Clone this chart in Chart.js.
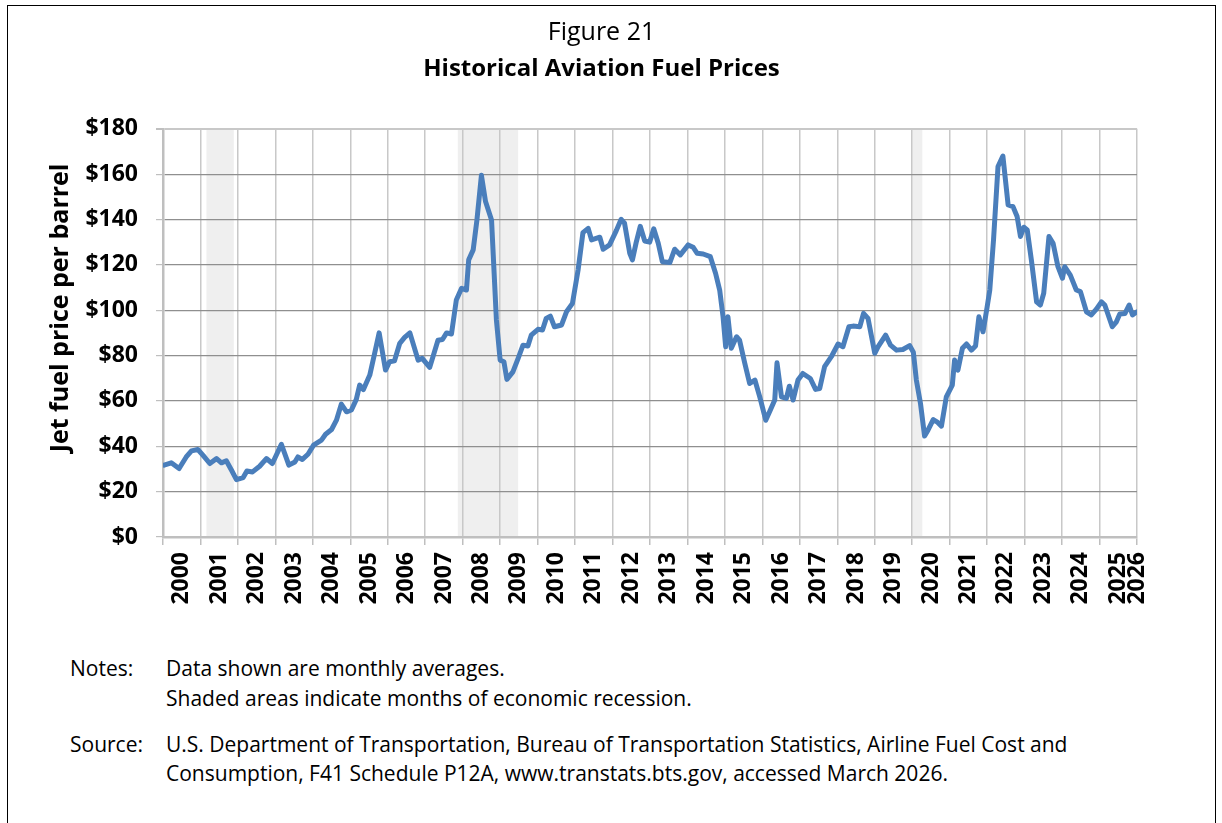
<!DOCTYPE html>
<html>
<head>
<meta charset="utf-8">
<script src="https://cdn.jsdelivr.net/npm/chart.js@4.4.1/dist/chart.umd.min.js"></script>
<style>
    body { margin: 0; background: #fff; font-family: "Open Sans", sans-serif; }
    .frame { position: absolute; left: 7px; top: 5px; width: 1207px; height: 830px; border: 1px solid #000; }
    .wrap { position: absolute; left: 0; top: 0; width: 1222px; height: 640px; }
    .note { position: absolute; font-size: 21px; line-height: 28px; color: #000; white-space: nowrap; }
</style>
</head>
<body>
<div class="frame"></div>
<div class="wrap"><canvas id="fuel" width="1222" height="640"></canvas></div>
<div class="note" style="left:70px; top:654px;">Notes:</div>
<div class="note" style="left:166px; top:654px;">Data shown are monthly averages.</div>
<div class="note" style="left:166px; top:684px;">Shaded areas indicate months of economic recession.</div>
<div class="note" style="left:70px; top:730px;">Source:</div>
<div class="note" style="left:166px; top:730px;">U.S. Department of Transportation, Bureau of Transportation Statistics, Airline Fuel Cost and</div>
<div class="note" style="left:166px; top:759px;">Consumption, F41 Schedule P12A, www.transtats.bts.gov, accessed March 2026.</div>
<script>
// dates are decimal years (2000.0 = start of Jan 2000), prices in $ per barrel
const priceDates = [
    2000.03, 2000.22, 2000.43, 2000.62, 2000.76, 2000.93, 2001.07, 2001.25, 2001.43, 2001.56, 2001.69, 2001.83, 2001.96,
    2002.14, 2002.24, 2002.39, 2002.58, 2002.76, 2002.92, 2003.16, 2003.36, 2003.52, 2003.60, 2003.72, 2003.87,
    2004.02, 2004.23, 2004.34, 2004.50, 2004.63, 2004.76, 2004.90, 2005.03, 2005.16, 2005.25, 2005.35, 2005.52,
    2005.65, 2005.77, 2005.94, 2006.05, 2006.18, 2006.32, 2006.45, 2006.59, 2006.81, 2006.92, 2007.12, 2007.34,
    2007.46, 2007.57, 2007.70, 2007.83, 2007.97, 2008.10, 2008.16, 2008.28, 2008.38, 2008.50, 2008.61, 2008.77,
    2008.90, 2009.00, 2009.10, 2009.18, 2009.34, 2009.48, 2009.61, 2009.74, 2009.83, 2010.01, 2010.13, 2010.23,
    2010.34, 2010.45, 2010.64, 2010.77, 2010.93, 2011.08, 2011.21, 2011.35, 2011.44, 2011.66, 2011.75, 2011.92,
    2012.10, 2012.23, 2012.32, 2012.46, 2012.53, 2012.63, 2012.74, 2012.86, 2012.99, 2013.10, 2013.22, 2013.33,
    2013.53, 2013.66, 2013.81, 2014.02, 2014.15, 2014.26, 2014.42, 2014.61, 2014.75, 2014.86, 2014.95, 2015.02,
    2015.08, 2015.17, 2015.31, 2015.39, 2015.53, 2015.66, 2015.80, 2015.93, 2016.09, 2016.21, 2016.33, 2016.39,
    2016.51, 2016.64, 2016.72, 2016.82, 2016.95, 2017.08, 2017.28, 2017.42, 2017.53, 2017.66, 2017.84, 2018.02,
    2018.15, 2018.31, 2018.42, 2018.60, 2018.70, 2018.82, 2019.00, 2019.09, 2019.29, 2019.42, 2019.58, 2019.75,
    2019.93, 2020.03, 2020.11, 2020.22, 2020.33, 2020.42, 2020.56, 2020.66, 2020.78, 2020.91, 2021.07, 2021.13,
    2021.22, 2021.34, 2021.45, 2021.58, 2021.69, 2021.78, 2021.89, 2022.00, 2022.07, 2022.17, 2022.29, 2022.42,
    2022.56, 2022.69, 2022.80, 2022.89, 2022.98, 2023.07, 2023.18, 2023.32, 2023.42, 2023.51, 2023.65, 2023.76,
    2023.89, 2024.01, 2024.07, 2024.22, 2024.38, 2024.49, 2024.65, 2024.78, 2024.91, 2025.05, 2025.14, 2025.34,
    2025.45, 2025.54, 2025.68, 2025.79, 2025.88, 2026.00
];
const prices = [
    31.7, 32.7, 30.2, 35.3, 38.0, 38.6, 36.0, 32.4, 34.6, 32.7, 33.6, 29.4, 25.3,
    26.2, 29.1, 28.7, 31.2, 34.6, 32.4, 40.9, 31.7, 33.1, 35.3, 34.2, 36.5,
    40.5, 42.7, 45.3, 47.4, 51.5, 58.6, 55.2, 56.0, 60.7, 67.0, 65.0, 71.4,
    81.0, 90.0, 73.6, 77.3, 77.7, 85.4, 88.0, 90.0, 78.0, 78.8, 74.8, 86.8,
    87.1, 90.0, 89.5, 104.5, 109.7, 108.9, 122.2, 126.6, 139.8, 159.5, 147.9, 139.8,
    95.7, 78.0, 77.3, 69.5, 72.8, 78.8, 84.6, 84.2, 89.0, 91.6, 91.3, 96.4,
    97.4, 92.7, 93.5, 99.3, 103.0, 117.7, 134.2, 136.1, 131.0, 132.2, 126.9, 128.8,
    135.1, 140.1, 138.4, 125.1, 122.2, 129.8, 137.0, 130.5, 130.0, 135.9, 129.5, 121.4,
    121.0, 126.9, 124.4, 128.8, 127.8, 125.1, 124.8, 123.6, 116.3, 108.9, 97.1, 83.9,
    97.1, 83.2, 88.3, 86.8, 76.6, 67.7, 69.2, 61.8, 51.5, 55.9, 60.4, 76.8,
    61.8, 61.1, 66.5, 60.4, 69.2, 72.1, 69.9, 65.1, 65.5, 75.1, 79.5, 85.1,
    83.9, 92.7, 93.0, 92.7, 98.6, 96.4, 81.0, 83.9, 89.0, 84.6, 82.4, 82.7,
    84.4, 81.5, 69.2, 58.9, 44.5, 47.1, 51.8, 50.8, 48.9, 61.8, 67.0, 78.0,
    73.6, 83.2, 85.1, 82.4, 84.2, 97.1, 90.5, 101.5, 108.9, 131.0, 163.4, 168.0,
    146.4, 145.7, 141.3, 132.5, 136.6, 135.4, 122.2, 103.7, 102.3, 107.5, 132.5, 129.5,
    119.2, 114.1, 119.2, 115.5, 108.9, 108.2, 99.3, 97.9, 100.4, 103.7, 102.3, 92.7,
    94.9, 98.3, 98.6, 102.3, 97.9, 99.3
];
// recession periods, [start, end] in decimal years
const recessions = [[2001.16, 2001.89], [2007.87, 2009.48], [2020.0, 2020.27]];
const yearLabels = ["2000", "2001", "2002", "2003", "2004", "2005", "2006", "2007", "2008", "2009", "2010", "2011", "2012",
    "2013", "2014", "2015", "2016", "2017", "2018", "2019", "2020", "2021", "2022", "2023", "2024", "2025", "2026"];
const yTicks = [0, 20, 40, 60, 80, 100, 120, 140, 160, 180];
const yAxisTitle = 'Jet fuel price per barrel';

const recessionShade = {
    id: 'recessionShade',
    beforeDraw(chart) {
        const { ctx, chartArea, scales } = chart;
        ctx.save();
        ctx.fillStyle = '#efefef';
        recessions.forEach(r => {
            const x1 = scales.x.getPixelForValue(r[0]);
            const x2 = scales.x.getPixelForValue(r[1]);
            ctx.fillRect(x1, chartArea.top, x2 - x1, chartArea.bottom - chartArea.top);
        });
        ctx.restore();
    }
};

// y axis title sits a bit above the middle of the plot in the original, so draw it ourselves
const sideTitle = {
    id: 'sideTitle',
    afterDraw(chart) {
        const { ctx, chartArea } = chart;
        ctx.save();
        ctx.translate(61, (chartArea.top + chartArea.bottom) / 2 - 25);
        ctx.rotate(-Math.PI / 2);
        ctx.font = 'bold 25px "Open Sans"';
        ctx.fillStyle = '#000';
        ctx.textAlign = 'center';
        ctx.textBaseline = 'middle';
        ctx.fillText(yAxisTitle, 0, 0);
        ctx.restore();
    }
};

new Chart(document.getElementById('fuel').getContext('2d'), {
    type: 'line',
    data: {
        datasets: [{
            label: 'Jet fuel price',
            data: priceDates.map((d, i) => ({ x: d, y: prices[i] })),
            borderColor: '#4a7ebb',
            borderWidth: 5,
            pointRadius: 0,
            tension: 0,
            borderJoinStyle: 'round',
            borderCapStyle: 'round',
            xAxisID: 'x'
        }]
    },
    options: {
        responsive: false,
        animation: false,
        layout: { padding: { left: 66, right: 85, top: 0, bottom: 0 } },
        plugins: {
            legend: { display: false },
            tooltip: { enabled: false },
            title: {
                display: true,
                text: 'Figure 21',
                color: '#000',
                font: { family: 'Open Sans', size: 25, weight: 'normal' },
                padding: { top: 18, bottom: 0 }
            },
            subtitle: {
                display: true,
                text: 'Historical Aviation Fuel Prices',
                color: '#000',
                font: { family: 'Open Sans', size: 24, weight: 'bold' },
                padding: { top: 7, bottom: 45 }
            }
        },
        scales: {
            x: {
                type: 'linear',
                position: 'bottom',
                min: 2000,
                max: 2026,
                afterBuildTicks: function (axis) {
                    // year boundaries carry the grid lines
                    axis.ticks = yearLabels.map(y => ({ value: parseInt(y, 10) }));
                },
                afterFit: function (scale) { scale.height = 8; },
                ticks: { display: false },
                grid: { color: '#c8c8c8', lineWidth: 1.5, tickLength: 8, tickColor: '#bfbfbf' },
                border: { color: '#bfbfbf', width: 2.5 }
            },
            x2: {
                type: 'linear',
                position: 'bottom',
                min: 2000,
                max: 2026,
                afterBuildTicks: function (axis) {
                    // labels sit in the middle of each year, the last one on the final month
                    axis.ticks = yearLabels.map((y, i) => ({ value: i < yearLabels.length - 1 ? parseInt(y, 10) + 0.5 : parseInt(y, 10) }));
                },
                afterFit: function (scale) { scale.height = 95; },
                ticks: {
                    autoSkip: false,
                    minRotation: 90,
                    maxRotation: 90,
                    padding: 7,
                    color: '#000',
                    font: { family: 'Open Sans', size: 23, weight: 'bold' },
                    callback: function (value) {
                        return String(Math.floor(value));
                    }
                },
                grid: { display: false, drawTicks: false },
                border: { display: false }
            },
            y: {
                min: 0,
                max: 180,
                afterBuildTicks: function (axis) {
                    axis.ticks = yTicks.map(v => ({ value: v }));
                },
                afterFit: function (scale) { scale.width = 97; },
                ticks: {
                    padding: 18,
                    color: '#000',
                    font: { family: 'Open Sans', size: 23, weight: 'bold' },
                    callback: function (value) { return '$' + value; }
                },
                grid: {
                    color: function (c) { return (c.tick && (c.tick.value === 0 || c.tick.value === 180)) ? '#c8c8c8' : '#8f8f8f'; },
                    lineWidth: function (c) { return (c.tick && c.tick.value === 180) ? 2 : 1.2; },
                    tickLength: 7,
                    tickColor: '#bfbfbf'
                },
                border: { color: '#bfbfbf', width: 2.5 }
            }
        }
    },
    plugins: [recessionShade, sideTitle]
});
</script>
</body>
</html>
